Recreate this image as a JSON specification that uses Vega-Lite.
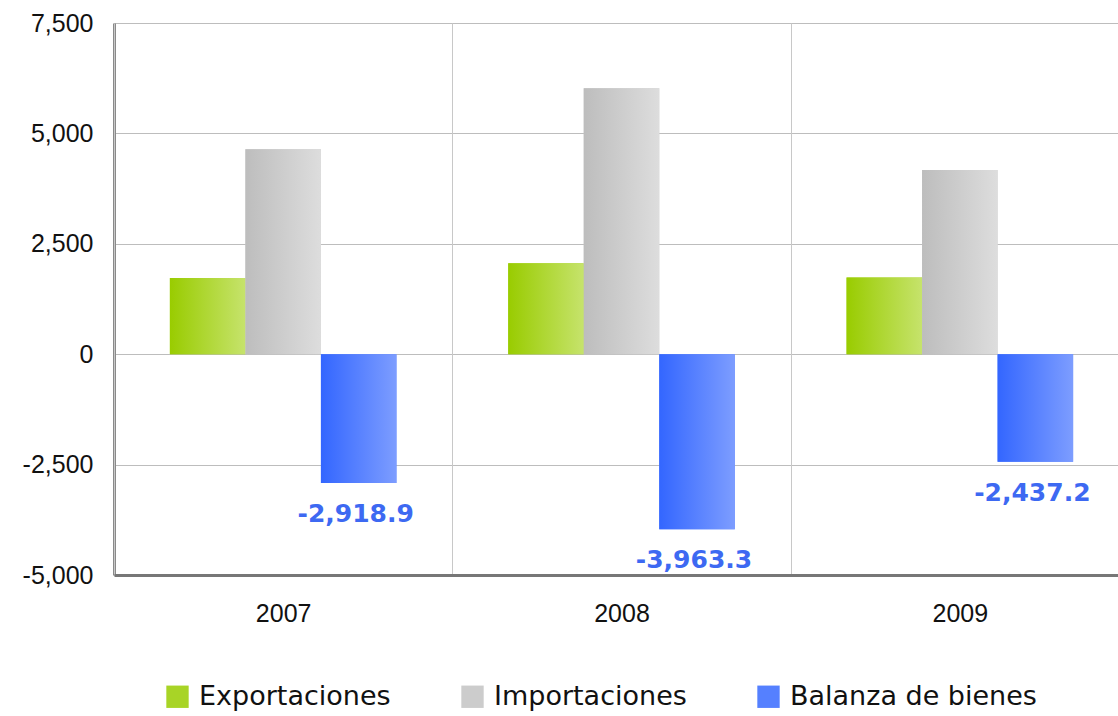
{
  "$schema": "https://vega.github.io/schema/vega-lite/v6.json",
  "width": 1015,
  "height": 552,
  "autosize": {"type": "none"},
  "padding": {"left": 114, "top": 23, "right": 0, "bottom": 141},
  "background": "white",
  "config": {
    "view": {"stroke": "#9a9a9a", "strokeWidth": 1},
    "font": "Liberation Sans",
    "locale": {"number": {"decimal": ".", "thousands": ",", "grouping": [3], "currency": ["$", ""], "minus": "-"}}
  },
  "data": {
    "values": [
      {"year": "2007", "serie": "Exportaciones", "valor": 1723.1},
      {"year": "2007", "serie": "Importaciones", "valor": 4642.0},
      {"year": "2007", "serie": "Balanza de bienes", "valor": -2918.9},
      {"year": "2008", "serie": "Exportaciones", "valor": 2061.0},
      {"year": "2008", "serie": "Importaciones", "valor": 6024.3},
      {"year": "2008", "serie": "Balanza de bienes", "valor": -3963.3},
      {"year": "2009", "serie": "Exportaciones", "valor": 1735.0},
      {"year": "2009", "serie": "Importaciones", "valor": 4172.2},
      {"year": "2009", "serie": "Balanza de bienes", "valor": -2437.2}
    ]
  },
  "encoding": {
    "x": {
      "field": "year", "type": "nominal",
      "scale": {"paddingInner": 0, "paddingOuter": 0},
      "axis": {
        "title": null, "labelAngle": 0, "labelFontSize": 25, "labelColor": "#111",
        "labelPadding": 26, "tickBand": "extent", "grid": true, "gridColor": "#c8c8c8",
        "ticks": false, "domainColor": "#777", "domainWidth": 3, "zindex": 1
      }
    },
    "xOffset": {
      "field": "serie", "type": "nominal",
      "sort": ["Exportaciones", "Importaciones", "Balanza de bienes"],
      "scale": {"domain": ["Exportaciones", "Importaciones", "Balanza de bienes"], "paddingInner": 0, "paddingOuter": 0.74}
    },
    "y": {
      "field": "valor", "type": "quantitative",
      "scale": {"domain": [-5000, 7500], "nice": false},
      "axis": {
        "title": null, "values": [-5000, -2500, 0, 2500, 5000, 7500], "format": ",.0f",
        "labelFontSize": 25, "labelColor": "#111", "labelPadding": 21, "ticks": false,
        "gridColor": "#bdbdbd", "domainColor": "#8a8a8a", "domainWidth": 3
      }
    }
  },
  "layer": [
    {
      "mark": {"type": "bar"},
      "encoding": {
        "color": {
          "field": "serie", "type": "nominal",
          "sort": ["Exportaciones", "Importaciones", "Balanza de bienes"],
          "scale": {
            "domain": ["Exportaciones", "Importaciones", "Balanza de bienes"],
            "range": ["#a8d426", "#cccccc", "#5580ff"]
          },
          "legend": {
            "title": null, "orient": "none", "legendX": 50, "legendY": 660, "direction": "horizontal",
            "symbolType": "square", "symbolSize": 500, "symbolStrokeWidth": 0, "symbolOpacity": 1,
            "labelFontSize": 27, "labelFont": "DejaVu Sans", "labelColor": "#111",
            "labelLimit": 0, "columnPadding": 68, "labelOffset": 8
          }
        }
      }
    },
    {
      "transform": [{"filter": "datum.serie === 'Exportaciones'"}],
      "mark": {"type": "bar", "color": {"gradient": "linear", "x1": 0, "y1": 0, "x2": 1, "y2": 0, "stops": [{"offset": 0, "color": "#99cc00"}, {"offset": 1, "color": "#c6e36c"}]}}
    },
    {
      "transform": [{"filter": "datum.serie === 'Importaciones'"}],
      "mark": {"type": "bar", "color": {"gradient": "linear", "x1": 0, "y1": 0, "x2": 1, "y2": 0, "stops": [{"offset": 0, "color": "#bdbdbd"}, {"offset": 1, "color": "#dddddd"}]}}
    },
    {
      "transform": [{"filter": "datum.serie === 'Balanza de bienes'"}],
      "mark": {"type": "bar", "color": {"gradient": "linear", "x1": 0, "y1": 0, "x2": 1, "y2": 0, "stops": [{"offset": 0, "color": "#3366ff"}, {"offset": 1, "color": "#7d9dff"}]}}
    },
    {
      "transform": [{"filter": "datum.serie === 'Balanza de bienes'"}],
      "mark": {"type": "text", "fontSize": 25, "fontWeight": "bold", "font": "DejaVu Sans", "color": "#3d69f2", "baseline": "middle", "dy": 31, "dx": -3},
      "encoding": {
        "text": {"field": "valor", "type": "quantitative", "format": ",.1f"}
      }
    }
  ]
}
